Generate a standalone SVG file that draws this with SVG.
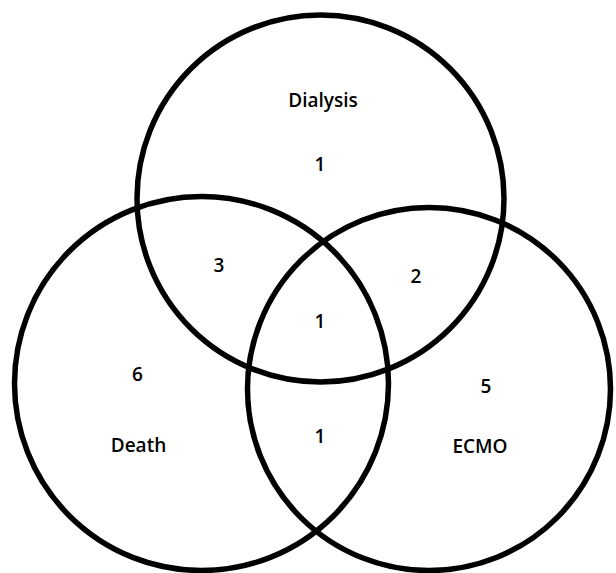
<svg xmlns="http://www.w3.org/2000/svg" width="616" height="573" viewBox="0 0 616 573">
<style>
.c{fill:none;stroke:#000;stroke-width:5.5}
.t{font-family:"Open Sans","Noto Sans",sans-serif;font-size:19px;font-weight:600;fill:#000;text-anchor:middle}
</style>
<rect width="616" height="573" fill="#fff"/>
<g id="dialysis"><circle class="c" cx="320.5" cy="198.5" r="183.5"/><text class="t" x="323" y="107">Dialysis</text><text class="t" x="320" y="171">1</text></g>
<g id="death"><circle class="c" cx="201.5" cy="383.5" r="187"/><text class="t" x="138.5" y="452">Death</text><text class="t" x="137.5" y="381">6</text></g>
<g id="ecmo"><circle class="c" cx="429" cy="389" r="181.5"/><text class="t" x="480" y="453">ECMO</text><text class="t" x="486" y="393">5</text></g>
<g id="overlaps">
<text class="t" x="219" y="272">3</text>
<text class="t" x="416" y="283">2</text>
<text class="t" x="320" y="328">1</text>
<text class="t" x="320" y="443">1</text>
</g>
<g id="connectors"/>
</svg>
